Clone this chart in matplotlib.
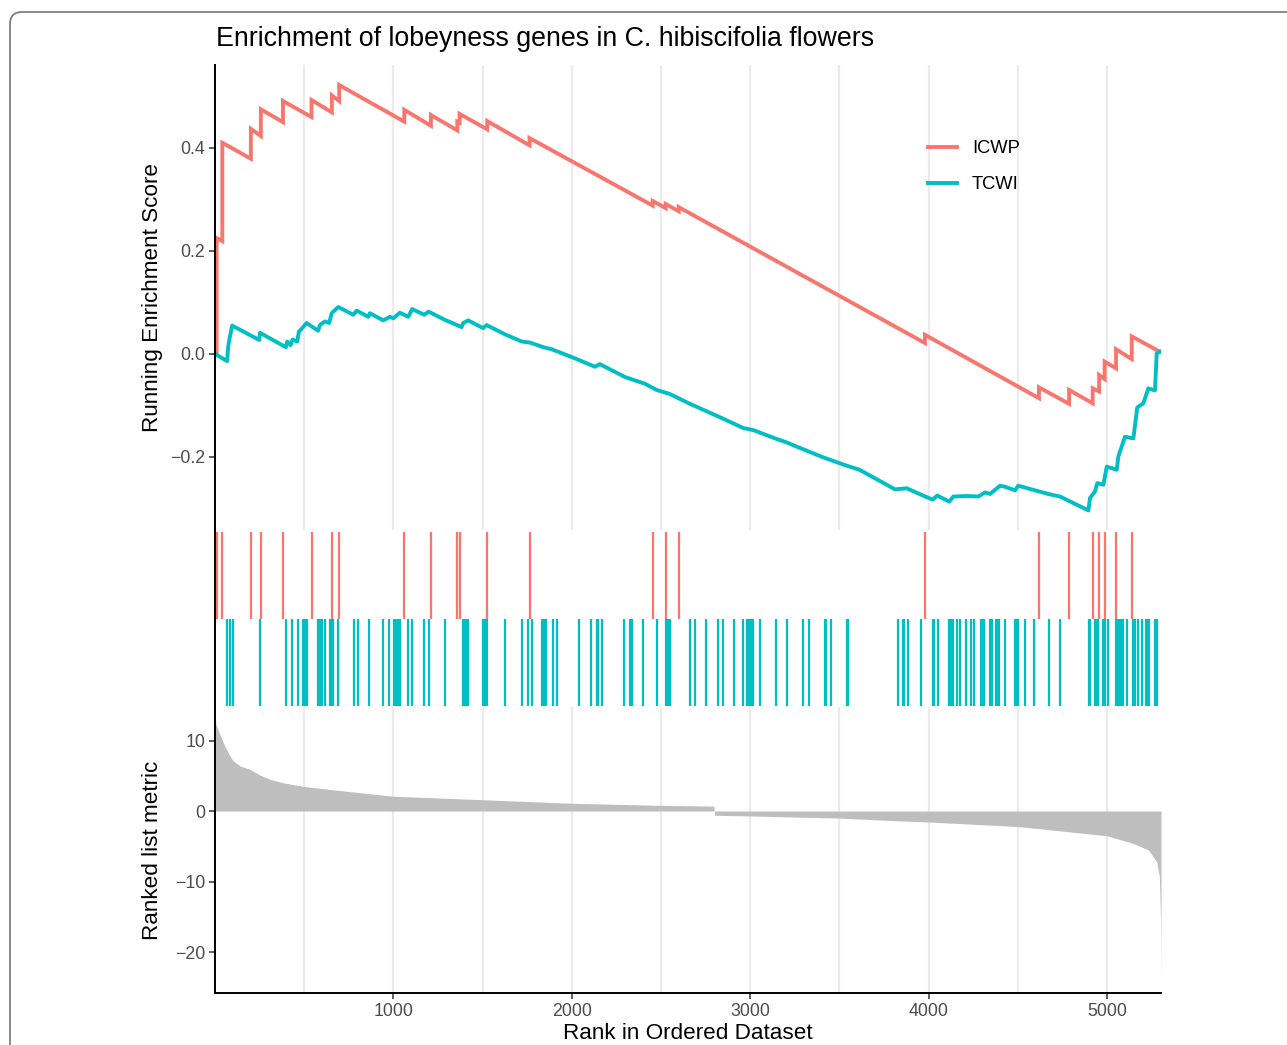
import matplotlib
matplotlib.use("Agg")
import matplotlib.pyplot as plt
from matplotlib.patches import FancyBboxPatch
from matplotlib.transforms import IdentityTransform
import numpy as np

plt.rcParams['font.family'] = ['Liberation Sans', 'DejaVu Sans']
plt.rcParams['axes.unicode_minus'] = True

# ---------------- data ----------------
n_genes = 5302
title = "Enrichment of lobeyness genes in C. hibiscifolia flowers"
series_names = ["ICWP", "TCWI"]
series_colors = ["#F8766D", "#00BFC4"]

icwp_hits = [9, 41, 201, 257, 381, 541, 655, 696, 1061, 1210, 1358, 1371, 1526,
             1763, 2453, 2526, 2599, 3979, 4618, 4787, 4919, 4955, 4986, 5050, 5138]
icwp_es_before = [0.0, 0.219, 0.379, 0.423, 0.450, 0.460, 0.469, 0.491, 0.451, 0.443,
                  0.434, 0.449, 0.436, 0.405, 0.288, 0.283, 0.277, 0.021, -0.086,
                  -0.097, -0.096, -0.073, -0.049, -0.028, -0.010]
icwp_es_after = [0.225, 0.410, 0.437, 0.475, 0.491, 0.493, 0.502, 0.522, 0.474, 0.464,
                 0.451, 0.466, 0.452, 0.419, 0.297, 0.291, 0.285, 0.037, -0.065,
                 -0.070, -0.067, -0.041, -0.015, 0.009, 0.034]
icwp_es_end = 0.003

tcwi_es_rank = [0, 68, 74, 84, 96, 248, 252, 397, 405, 424, 435, 461, 470, 494, 513,
                578, 588, 616, 640, 654, 691, 775, 794, 859, 868, 943, 980, 999, 1036,
                1083, 1105, 1173, 1197, 1289, 1382, 1391, 1419, 1503, 1522, 1625, 1719,
                1765, 1840, 1887, 2027, 2129, 2157, 2298, 2410, 2475, 2550, 2662, 2830,
                2961, 3017, 3138, 3204, 3288, 3409, 3531, 3612, 3811, 3877, 3961, 4022,
                4048, 4115, 4138, 4215, 4278, 4316, 4344, 4400, 4428, 4484, 4502, 4586,
                4670, 4736, 4895, 4904, 4932, 4945, 4979, 4998, 5054, 5063, 5100, 5147,
                5169, 5203, 5231, 5268, 5278, 5296]
tcwi_es_val = [0.0, -0.014, 0.014, 0.034, 0.055, 0.027, 0.041, 0.013, 0.024, 0.017,
               0.028, 0.024, 0.043, 0.052, 0.060, 0.045, 0.056, 0.063, 0.060, 0.079,
               0.091, 0.076, 0.084, 0.072, 0.079, 0.065, 0.072, 0.069, 0.080, 0.072,
               0.087, 0.076, 0.082, 0.066, 0.052, 0.060, 0.065, 0.050, 0.056, 0.038,
               0.024, 0.022, 0.013, 0.009, -0.010, -0.025, -0.020, -0.045, -0.058,
               -0.070, -0.078, -0.097, -0.123, -0.144, -0.148, -0.164, -0.172, -0.184,
               -0.201, -0.216, -0.225, -0.263, -0.261, -0.274, -0.283, -0.275, -0.287,
               -0.277, -0.276, -0.277, -0.269, -0.272, -0.256, -0.258, -0.265, -0.256,
               -0.264, -0.272, -0.277, -0.304, -0.280, -0.267, -0.251, -0.254, -0.219,
               -0.225, -0.199, -0.161, -0.164, -0.104, -0.096, -0.067, -0.071, 0.001,
               0.004]

tcwi_hits = [69, 82, 99, 250, 399, 433, 467, 496, 506, 513, 579, 590, 599, 616, 642,
             652, 661, 691, 777, 803, 865, 943, 975, 1005, 1014, 1023, 1036, 1083, 1106,
             1173, 1197, 1291, 1388, 1397, 1406, 1418, 1504, 1515, 1524, 1625, 1720,
             1756, 1776, 1834, 1844, 1853, 1892, 1917, 2040, 2105, 2139, 2145, 2167,
             2294, 2326, 2335, 2400, 2477, 2528, 2539, 2550, 2662, 2690, 2752, 2817,
             2845, 2911, 2957, 2982, 2995, 3004, 3013, 3054, 3142, 3208, 3294, 3327,
             3419, 3424, 3452, 3540, 3548, 3826, 3858, 3863, 3886, 3959, 4026, 4032,
             4050, 4116, 4123, 4134, 4157, 4175, 4209, 4237, 4256, 4293, 4303, 4312,
             4344, 4353, 4377, 4385, 4394, 4428, 4484, 4493, 4499, 4540, 4592, 4674,
             4736, 4899, 4906, 4932, 4942, 4951, 4979, 4988, 5003, 5050, 5057, 5065,
             5072, 5080, 5087, 5110, 5143, 5151, 5158, 5171, 5194, 5218, 5226, 5235,
             5269, 5274, 5282]

metric_rank = [1, 5, 27, 55, 84, 102, 140, 196, 252, 308, 383, 494, 663, 999, 1503,
               1999, 2500, 2796, 2800, 3000, 3500, 3840, 4004, 4502, 4998, 5147, 5231,
               5278, 5293, 5300, 5302]
metric_val = [14.0, 12.3, 10.9, 9.2, 7.8, 7.1, 6.4, 5.9, 5.1, 4.5, 4.0, 3.5, 3.0, 2.1,
              1.6, 1.1, 0.8, 0.7, -0.6, -0.7, -1.0, -1.4, -1.56, -2.2, -3.5, -4.6,
              -5.5, -7.2, -9.3, -16.0, -24.0]

x_ticks = [1000, 2000, 3000, 4000, 5000]
es_ticks = [-0.2, 0.0, 0.2, 0.4]
metric_ticks = [-20, -10, 0, 10]

# ---------------- figure ----------------
W, H = 1287, 1045
fig = plt.figure(figsize=(W / 100, H / 100), dpi=100)

frame = FancyBboxPatch((10, -60), 1400, H - 12 + 60,
                       boxstyle="round,pad=0,rounding_size=12",
                       transform=IdentityTransform(), facecolor="none",
                       edgecolor="#808080", linewidth=1.3)
fig.patches.append(frame)

def px_axes(x0, y0, x1, y1):
    return fig.add_axes([x0 / W, 1 - y1 / H, (x1 - x0) / W, (y1 - y0) / H])

ax1 = px_axes(215, 65, 1161, 530)
ax2 = px_axes(215, 530, 1161, 707)
ax3 = px_axes(215, 707, 1161, 993)

grid_color = "#EBEBEB"
tick_gray = "#4D4D4D"
for ax in (ax1, ax2, ax3):
    ax.set_xlim(0, n_genes)
    for s in ("top", "right"):
        ax.spines[s].set_visible(False)
    ax.spines["left"].set_linewidth(1.4)
    ax.spines["left"].set_color("black")
    ax.tick_params(axis="both", which="major", length=4.5, width=1.1,
                   color="#333333", labelcolor=tick_gray, labelsize=12.8, pad=2.5)

for ax in (ax1, ax3):
    ax.set_xticks(x_ticks)
    ax.set_xticks([500, 1500, 2500, 3500, 4500], minor=True)
    ax.tick_params(axis="x", which="minor", length=0)
    ax.grid(True, axis="x", which="both", color=grid_color, linewidth=1.6)
    ax.set_axisbelow(True)

# ---- top panel: running enrichment score ----
xs = [0]
ys = [0.0]
for r, b, a in zip(icwp_hits, icwp_es_before, icwp_es_after):
    xs += [r, r]
    ys += [b, a]
xs.append(n_genes)
ys.append(icwp_es_end)
ax1.plot(xs, ys, color=series_colors[0], lw=2.8, label=series_names[0],
         solid_joinstyle="miter")
ax1.plot(tcwi_es_rank, tcwi_es_val, color=series_colors[1], lw=2.8,
         label=series_names[1])
ax1.set_ylim(-0.342, 0.561)
ax1.set_yticks(es_ticks)
ax1.set_yticklabels(["\u22120.2", "0.0", "0.2", "0.4"])
ax1.spines["bottom"].set_visible(False)
ax1.tick_params(axis="x", which="both", bottom=False, labelbottom=False)
ax1.set_ylabel("Running Enrichment Score", fontsize=16.2, color="black")
ax1.yaxis.set_label_coords(-0.055, 0.5)

leg = ax1.legend(loc="upper left", bbox_to_anchor=(928 / W, 1 - 140 / H),
                 bbox_transform=fig.transFigure, frameon=False, fontsize=13.2,
                 handlelength=1.6, handletextpad=0.8, labelspacing=1.05,
                 borderpad=0, borderaxespad=0)
for t in leg.get_texts():
    t.set_color("black")

# ---- middle panel: hits ----
ax2.vlines(icwp_hits, 1.0, 1.98, color=series_colors[0], lw=1.6)
ax2.vlines(tcwi_hits, 0.01, 0.99, color=series_colors[1], lw=1.6)
ax2.set_ylim(0, 2)
ax2.spines["bottom"].set_visible(False)
ax2.set_xticks([])
ax2.set_yticks([])

# ---- bottom panel: ranked list metric ----
ax3.fill_between(metric_rank, 0, metric_val, color="#BEBEBE", lw=0)
ax3.set_ylim(-25.8, 14.75)
ax3.set_yticks(metric_ticks)
ax3.set_yticklabels(["\u221220", "\u221210", "0", "10"])
ax3.spines["bottom"].set_linewidth(1.4)
ax3.spines["bottom"].set_color("black")
ax3.set_ylabel("Ranked list metric", fontsize=16.2, color="black")
ax3.yaxis.set_label_coords(-0.055, 0.5)
ax3.set_xlabel("Rank in Ordered Dataset", fontsize=16.2, color="black")
ax3.xaxis.set_label_coords(0.5, -0.106)
ax3.xaxis.label.set_va("top")

fig.text(216 / W, 1 - 39 / H, title, fontsize=19.3, ha="left", va="center",
         color="black")

fig.savefig("out.png", dpi=100)
